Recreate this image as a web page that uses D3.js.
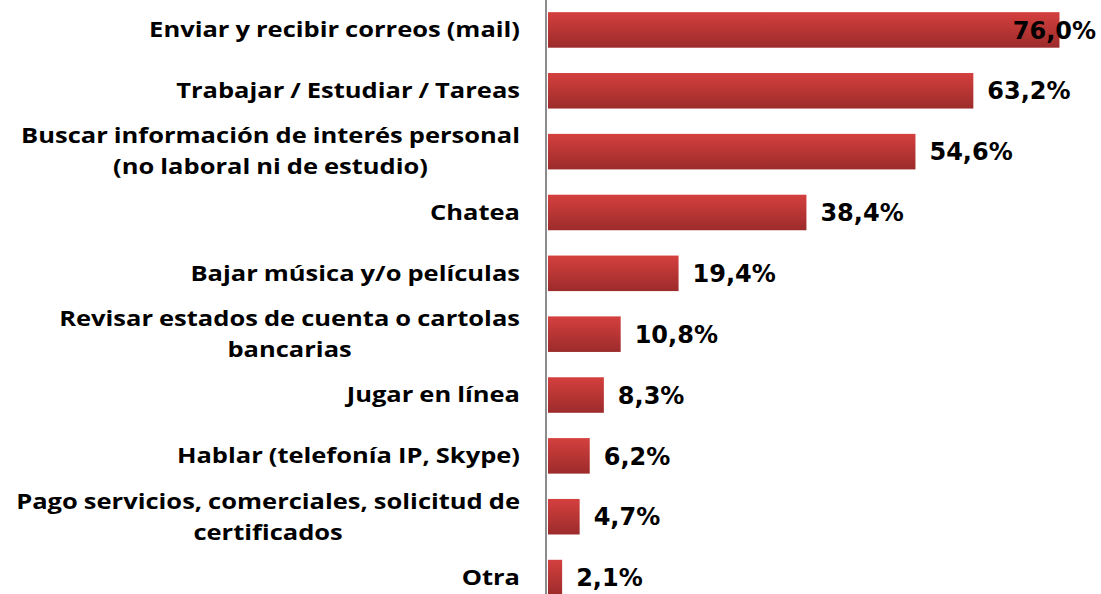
<!DOCTYPE html>
<html lang="es">
<head>
    <meta charset="UTF-8">
    <title>Usos de internet</title>
    <script src="https://d3js.org/d3.v7.min.js"></script>
    <style>
        body { margin: 0; background: #fff; }
        .cat { font-family: "Open Sans", sans-serif; font-weight: 700; font-size: 21px; word-spacing: -0.5px; fill: #000; }
        .val { font-family: "DejaVu Sans", Verdana, sans-serif; font-weight: 700; font-size: 24px; fill: #000; }
    </style>
</head>
<body>
<script>
    // categories (line breaks as in the original chart)
    const categories = [
        "Enviar y recibir correos (mail)",
        "Trabajar / Estudiar / Tareas",
        "Buscar información de interés personal\n(no laboral ni de estudio)",
        "Chatea",
        "Bajar música y/o películas",
        "Revisar estados de cuenta o cartolas\nbancarias",
        "Jugar en línea",
        "Hablar (telefonía IP, Skype)",
        "Pago servicios, comerciales, solicitud de\ncertificados",
        "Otra"
    ];
    const values = [76.0, 63.2, 54.6, 38.4, 19.4, 10.8, 8.3, 6.2, 4.7, 2.1];

    const width = 1101, height = 594;

    const svg = d3.select("body").append("svg")
        .attr("width", width)
        .attr("height", height);

    const defs = svg.append("defs");
    const grad = defs.append("linearGradient")
        .attr("id", "barGrad")
        .attr("x1", 0).attr("y1", 0).attr("x2", 0).attr("y2", 1);
    grad.append("stop").attr("offset", "0%").attr("stop-color", "#d4403e");
    grad.append("stop").attr("offset", "100%").attr("stop-color", "#9c2b2b");

    const x = d3.scaleLinear().domain([0, 80]).range([548, 548 + 80 * 6.73]);
    const y = d3.scaleBand()
        .domain(categories)
        .range([0, 607.5])
        .paddingInner(0.416)
        .paddingOuter(0.2);

    const rows = categories.map((c, i) => ({ cat: c, value: values[i] }));

    svg.selectAll("rect.bar")
        .data(rows)
        .enter().append("rect")
        .attr("class", "bar")
        .attr("x", x(0))
        .attr("y", d => y(d.cat))
        .attr("width", d => x(d.value) - x(0))
        .attr("height", y.bandwidth())
        .attr("fill", "url(#barGrad)");

    // vertical axis line
    svg.append("line")
        .attr("x1", 546).attr("x2", 546)
        .attr("y1", 0).attr("y2", height)
        .attr("stroke", "#8c8c8c")
        .attr("stroke-width", 2);

    // category labels: block right aligned at labelRight, lines centred in block,
    // glyphs stretched a bit horizontally like the original
    const lineH = 31;
    const labelRight = 520;
    const stretch = 1.215;
    rows.forEach(d => {
        const lines = d.cat.split("\n");
        const cy = y(d.cat) + y.bandwidth() / 2;
        const g = svg.append("g")
            .attr("transform", `translate(${labelRight},0) scale(${stretch},1)`);
        const texts = lines.map((ln, j) => g.append("text")
            .attr("class", "cat")
            .attr("y", cy + (j - (lines.length - 1) / 2) * lineH)
            .attr("dy", "0.35em")
            .attr("text-anchor", "middle")
            .text(ln));
        const maxW = d3.max(texts, t => t.node().getComputedTextLength());
        texts.forEach(t => t.attr("x", -maxW / 2));
    });

    // value labels
    svg.selectAll("text.val")
        .data(rows)
        .enter().append("text")
        .attr("class", "val")
        .attr("y", d => y(d.cat) + y.bandwidth() / 2)
        .attr("dy", "0.36em")
        .attr("x", d => x(d.value) + 14)
        .text(d => d3.format(".1f")(d.value).replace(".", ",") + "%")
        .each(function () {
            const w = this.getComputedTextLength();
            const x0 = +this.getAttribute("x");
            if (x0 + w > width - 5) this.setAttribute("x", width - 5 - w);
        });
</script>
</body>
</html>
